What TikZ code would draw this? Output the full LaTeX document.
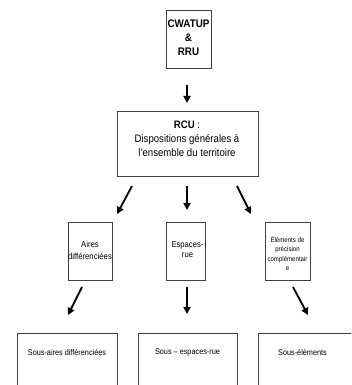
\documentclass[tikz,border=0pt]{standalone}
\usepackage{fontspec}
\setmainfont[FakeStretch=0.89]{Liberation Sans}
\usetikzlibrary{arrows.meta}
\begin{document}
\begin{tikzpicture}[x=1pt,y=-1pt,
  box/.style={draw=black!75,line width=0.8pt,inner sep=0pt,align=center},
  txt/.style={inner sep=0pt,align=center},
  arr/.style={line width=1.8pt,-{Triangle[length=7pt,width=7pt]}}]
\useasboundingbox (0,0) rectangle (351,385);
\clip (0,0) rectangle (351,385);
% top
\node[box,minimum width=45,minimum height=58] (cw) at (188.5,39) {};
\node[txt,font=\bfseries\fontsize{11}{14.2}\selectfont] (cwt) at (188.5,37.5) {CWATUP\\\&\\RRU};
\coordinate (a1s) at (187,85);
\coordinate (a1e) at (187,103);
\draw[arr] (a1s) -- (a1e);
\node[box,minimum width=141,minimum height=65] (rcu) at (187.5,143.5) {};
\node[txt,font=\fontsize{10.8}{14}\selectfont] (rcut) at (187,138.5) {\textbf{RCU} :\\Dispositions générales à\\l'ensemble du territoire};
% arrows from RCU
\coordinate (l1s) at (132,186); \coordinate (l1e) at (117,214);
\coordinate (m1s) at (187,186); \coordinate (m1e) at (187,210);
\coordinate (r1s) at (237,186); \coordinate (r1e) at (251,214);
\draw[arr] (l1s) -- (l1e);
\draw[arr] (m1s) -- (m1e);
\draw[arr] (r1s) -- (r1e);
% middle row
\node[box,minimum width=44,minimum height=58] (aires) at (90,251) {};
\node[txt,font=\fontsize{8.7}{12}\selectfont] (airest) at (90,250.5) {Aires\\différenciées};
\node[box,minimum width=39,minimum height=58] (esp) at (186.2,251) {};
\node[txt,font=\fontsize{8.6}{10.5}\selectfont] (espt) at (187.5,249.5) {Espaces-\\rue};
\node[box,minimum width=45,minimum height=58] (elem) at (287.5,251) {};
\node[txt,font=\fontsize{6.85}{9.2}\selectfont] (elemt) at (287.5,253.5) {Éléments de\\précision\\complémentair\\e};
% arrows row 2
\coordinate (l2s) at (82,287); \coordinate (l2e) at (68,315);
\coordinate (m2s) at (187,287); \coordinate (m2e) at (187,314);
\coordinate (r2s) at (293,287); \coordinate (r2e) at (308,315);
\draw[arr] (l2s) -- (l2e);
\draw[arr] (m2s) -- (m2e);
\draw[arr] (r2s) -- (r2e);
% bottom row
\draw[draw=black!75,line width=0.8pt] (17,400) |- (117,333) -- (117,400);
\draw[draw=black!75,line width=0.8pt] (138,400) |- (237,333) -- (237,400);
\draw[draw=black!75,line width=0.8pt] (258,400) |- (360,333);
\node[txt,font=\fontsize{8.2}{10}\selectfont] (sa) at (67,352.5) {Sous-aires différenciées};
\node[txt,font=\fontsize{8.2}{10}\selectfont] (se) at (187.5,352.5) {Sous – espaces-rue};
\node[txt,font=\fontsize{8.2}{10}\selectfont] (sel) at (302.5,352.5) {Sous-éléments};
\end{tikzpicture}
\end{document}
